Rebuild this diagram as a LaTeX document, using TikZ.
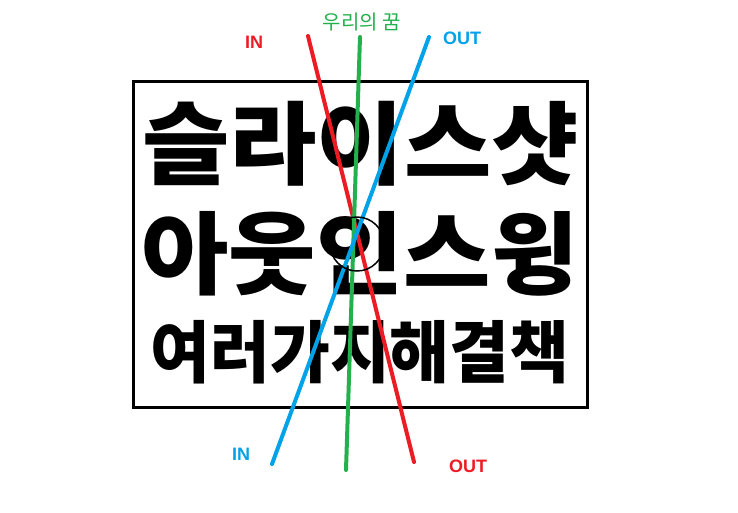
\documentclass[tikz,border=0pt]{standalone}
\usepackage{fontspec}
\newfontfamily\kr{Noto Sans CJK KR}
\newfontfamily\lab{Liberation Sans}
\definecolor{pred}{RGB}{237,28,36}
\definecolor{pblue}{RGB}{0,162,232}
\definecolor{pgreen}{RGB}{34,177,76}
\tikzset{
  big/.style={inner sep=0pt, font=\kr\bfseries\fontsize{95}{95}\selectfont, yscale=0.95},
  mid/.style={inner sep=0pt, font=\kr\bfseries\fontsize{65}{65}\selectfont, yscale=1.04},
  tag/.style={inner sep=0pt, font=\lab\bfseries\fontsize{18}{18}\selectfont},
  stroke/.style={line width=4pt, line cap=round},
}
\begin{document}
\begin{tikzpicture}[x=1pt,y=-1pt]
\useasboundingbox[fill=white] (0,0) rectangle (738,512);
\node[draw, line width=3pt, minimum width=454pt, minimum height=326pt, inner sep=0pt] (box) at (360,244) {};
\node[big] (l1) at (360.5,143.5) {슬라이스샷};
\node[big] (l2) at (360,253.5) {아웃인스윙};
\node[mid] (l3) at (360,352) {여러가지해결책};
\coordinate (rt) at (308,36);
\coordinate (rb) at (414,462);
\coordinate (gt) at (360,37);
\coordinate (gb) at (346,470);
\coordinate (bt) at (429,37);
\coordinate (bb) at (272,464);
\draw[stroke, pred] (rt) -- (rb);
\draw[stroke, pgreen] (gt) -- (gb);
\draw[stroke, pblue] (bt) -- (bb);
\node[draw, circle, line width=1.5pt, minimum size=54pt, inner sep=0pt] (ring) at (357,244) {};
\node[tag, text=pred] (inr) at (254,42) {IN};
\node[inner sep=0pt, text=pgreen, font=\kr\fontsize{20}{20}\selectfont] (dream) at (362,22) {우리의 꿈};
\node[tag, text=pblue] (outb) at (462,38) {OUT};
\node[tag, text=pblue] (inb) at (241,454) {IN};
\node[tag, text=pred] (outr) at (468,466) {OUT};
\end{tikzpicture}
\end{document}
